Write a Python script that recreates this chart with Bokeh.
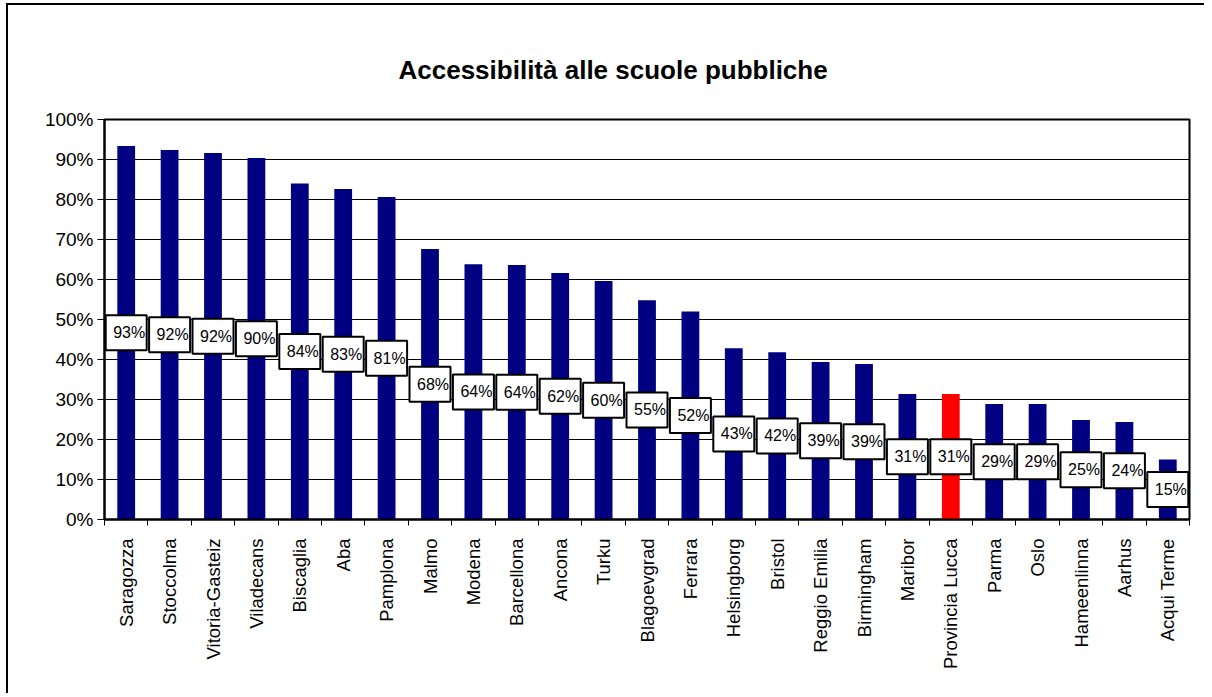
import math
from bokeh.plotting import figure
from bokeh.models import Range1d, FixedTicker, NumeralTickFormatter, ColumnDataSource
from bokeh.core.properties import value
from bokeh.embed import file_html
from bokeh.resources import INLINE

title_text = "Accessibilità alle scuole pubbliche"

cities = [
    "Saragozza", "Stoccolma", "Vitoria-Gasteiz", "Viladecans", "Biscaglia",
    "Aba", "Pamplona", "Malmo", "Modena", "Barcellona", "Ancona", "Turku",
    "Blagoevgrad", "Ferrara", "Helsingborg", "Bristol", "Reggio Emilia",
    "Birmingham", "Maribor", "Provincia Lucca", "Parma", "Oslo",
    "Hameenlinna", "Aarhus", "Acqui Terme",
]
values = [
    93.4, 92.4, 91.6, 90.4, 84.0,
    82.6, 80.6, 67.6, 63.8, 63.6, 61.6, 59.6,
    54.8, 52.0, 42.8, 41.8, 39.4,
    38.9, 31.4, 31.4, 28.9, 28.9,
    24.9, 24.4, 15.0,
]
highlight = "Provincia Lucca"
y_ticks = [i / 10 for i in range(11)]

labels = [f"{round(v)}%" for v in values]
xs = [i + 0.5 for i in range(len(cities))]
colors = ["#FF0000" if c == highlight else "#000080" for c in cities]

src = ColumnDataSource(dict(
    x=xs,
    top=[v / 100 for v in values],
    mid=[v / 200 for v in values],
    label=labels,
    color=colors,
))

FONT = "Liberation Sans"

p = figure(
    width=1198, height=690,
    output_backend="svg", toolbar_location=None,
    x_range=Range1d(0, len(cities)), y_range=Range1d(0, 1),
    min_border_left=96, min_border_right=17, min_border_top=114, min_border_bottom=176,
    background_fill_color="white", border_fill_color="white",
)
p.styles = {
    "border-left": "2px solid black",
    "border-top": "2px solid black",
    "margin-left": "6px",
    "margin-top": "3px",
}

p.title.text = title_text
p.title.text_font = FONT
p.title.text_font_size = "26px"
p.title.text_font_style = "bold"
p.title.text_color = "black"
p.title.align = "left"
p.title.offset = 294
p.title.standoff = 70

p.outline_line_color = "black"
p.outline_line_width = 2

p.vbar(x="x", top="top", width=0.41, fill_color="color", line_color=None, source=src)

p.rect(x="x", y="mid", width=41, height=35, width_units="screen", height_units="screen",
       fill_color="white", line_color="black", line_width=2, source=src)
p.text(x="x", y="mid", text="label", text_align="center", text_baseline="middle",
       x_offset=3, text_font=value(FONT), text_font_size="16px", text_color="black", source=src)

xaxis = p.xaxis[0]
xaxis.ticker = FixedTicker(ticks=xs, minor_ticks=list(range(len(cities) + 1)))
xaxis.major_label_overrides = {x: c for x, c in zip(xs, cities)}
xaxis.major_label_orientation = math.pi / 2
xaxis.major_tick_out = 0
xaxis.major_tick_in = 0
xaxis.minor_tick_out = 6
xaxis.minor_tick_in = 0
xaxis.minor_tick_line_color = "black"
xaxis.axis_line_color = "black"
xaxis.axis_line_width = 2
xaxis.major_label_standoff = 13
xaxis.major_label_text_font = FONT
xaxis.major_label_text_font_size = "18.5px"
xaxis.major_label_text_color = "black"

yaxis = p.yaxis[0]
yaxis.ticker = FixedTicker(ticks=y_ticks)
yaxis.formatter = NumeralTickFormatter(format="0%")
yaxis.major_tick_out = 7
yaxis.major_tick_in = 0
yaxis.minor_tick_out = 0
yaxis.minor_tick_in = 0
yaxis.major_tick_line_color = "black"
yaxis.axis_line_color = "black"
yaxis.axis_line_width = 2
yaxis.major_label_standoff = 4
yaxis.major_label_text_font = FONT
yaxis.major_label_text_font_size = "19px"
yaxis.major_label_text_color = "black"

p.xgrid.visible = False
p.ygrid.ticker = FixedTicker(ticks=y_ticks)
p.ygrid.grid_line_color = "black"
p.ygrid.grid_line_width = 1
p.ygrid.grid_line_alpha = 1.0

open("out.html", "w").write(file_html(p, INLINE))
